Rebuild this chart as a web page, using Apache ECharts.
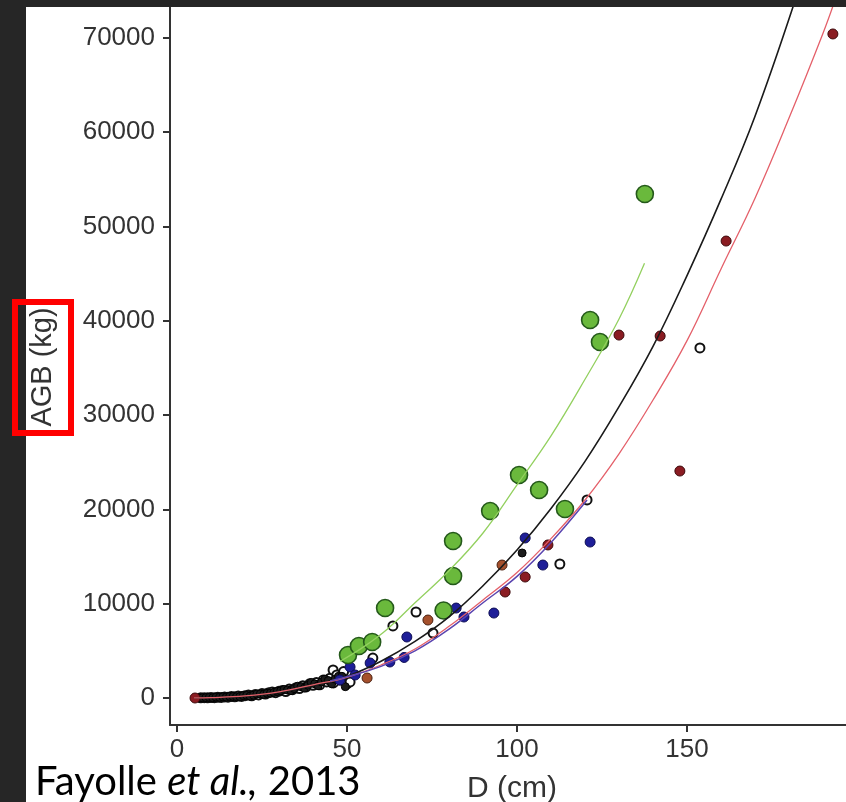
<!DOCTYPE html>
<html>
<head>
<meta charset="utf-8">
<script src="https://cdn.jsdelivr.net/npm/echarts@6/dist/echarts.min.js"></script>
<style>
  html, body { margin: 0; padding: 0; background: #ffffff; }
  #chart { width: 846px; height: 802px; }
</style>
</head>
<body>
<div id="chart"></div>
<script>
// Axis ticks
const xTicks = [0, 50, 100, 150];
const yTicks = [0, 10000, 20000, 30000, 40000, 50000, 60000, 70000];

// Green group (large symbols)
const greenD   = [50.3, 53.5, 57.4, 61.2, 78.4, 81.2, 81.2, 92.1, 100.6, 106.5, 114.1, 121.5, 124.4, 137.6];
const greenAGB = [4560, 5515, 5940, 9545, 9280, 12940, 16650, 19830, 23650, 22060, 20040, 40090, 37750, 53450];

// Dark red group
const redD   = [5.3, 96.5, 102.4, 109.1, 130.0, 142.1, 147.9, 161.5, 192.9];
const redAGB = [0, 11240, 12830, 16230, 38490, 38390, 24070, 48460, 70420];

// Brown points
const brownD   = [55.9, 73.8, 95.6];
const brownAGB = [2120, 8270, 14100];

// Blue group
const blueD   = [47.9, 50.9, 52.4, 56.8, 62.6, 66.8, 67.6, 82.1, 84.4, 93.2, 102.4, 107.6, 121.5];
const blueAGB = [1910, 3290, 2440, 3710, 3820, 4300, 6470, 9540, 8590, 9010, 16970, 14100, 16540];

// Open circles
const openD   = [7, 8, 9, 10, 11, 12, 13, 14, 15, 16, 17, 18, 19, 20, 21, 22, 23, 24, 25, 26, 27, 28, 29, 30,
                 31, 32, 33, 34, 35, 36, 37, 38, 39, 40, 41, 42, 43, 44, 45, 45.9, 46, 47, 48, 49, 50, 50.9,
                 57.6, 63.5, 70.3, 75.3, 112.6, 120.6, 153.8];
const openAGB = [20, 30, 20, 50, 40, 80, 60, 110, 90, 150, 120, 200, 170, 250, 310, 240, 380, 330, 470, 420, 560, 640, 560, 720,
                 800, 680, 950, 880, 1100, 1000, 1300, 1180, 1500, 1350, 1650, 1400, 1900, 1700, 2100, 2970, 1600, 2450, 1900, 2800, 1500, 1700,
                 4240, 7640, 9120, 6890, 14210, 21000, 37120];

// Small filled black points
const darkD   = [6.5, 7.5, 8.5, 9.5, 10.5, 11.5, 12.5, 13.5, 14.5, 15.5, 16.5, 17.5, 18.5, 19.5, 20.5, 21.5, 22.5, 23.5,
                 24.5, 25.5, 26.5, 27.5, 28.5, 29.5, 30.5, 31.5, 32.5, 33.5, 34.5, 35.5, 36.5, 37.5, 38.5, 39.5,
                 40.5, 41.5, 42.5, 43.5, 44.5, 45.5, 46.5, 47.5, 48.5, 49.5, 101.5];
const darkAGB = [10, 30, 40, 60, 30, 90, 70, 120, 100, 170, 160, 140, 150, 250, 280, 200, 300, 420, 420, 380, 500, 520, 600, 700,
                 760, 900, 850, 780, 1000, 1250, 1200, 1050, 1350, 1650, 1500, 1300, 1700, 2000, 1850, 1500, 2000, 2300, 2300, 1200, 15380];

// Fitted curves
const greenFitD   = [48, 55, 62, 70, 80, 90, 100, 110, 120, 130, 137.5];
const greenFitAGB = [3900, 5450, 7350, 10100, 13500, 17500, 22600, 27800, 33800, 40200, 46100];

const blackFitD   = [5, 10, 20, 30, 40, 50, 60, 70, 80, 90, 100, 110, 120, 130, 140, 150, 160, 170, 182];
const blackFitAGB = [10, 40, 200, 600, 1300, 2300, 3900, 6000, 8600, 11900, 15700, 20100, 25100, 30900, 37300, 44800, 52900, 61700, 74200];

const redFitD   = [5, 10, 20, 30, 40, 50, 60, 70, 80, 90, 100, 110, 120, 130, 140, 150, 160, 170, 180, 190, 194];
const redFitAGB = [10, 40, 220, 650, 1400, 2200, 3500, 5200, 7600, 10400, 13300, 16900, 21000, 25900, 31600, 37900, 45500, 53000, 61500, 70500, 74500];

const purpleFitD   = [45, 50, 60, 70, 80, 90, 100, 110, 120.6];
const purpleFitAGB = [1800, 2250, 3350, 5000, 7300, 10100, 12900, 16500, 21000];

const pair = (xs, ys) => xs.map((x, i) => [x, ys[i]]);

const chart = echarts.init(document.getElementById('chart'), null, { renderer: 'canvas' });

const font = 'Liberation Sans';

function pointSeries(xs, ys, size, fill, border, bw) {
  return {
    type: 'scatter',
    data: pair(xs, ys),
    symbol: 'circle',
    symbolSize: size,
    itemStyle: { color: fill, borderColor: border, borderWidth: bw, opacity: 1 },
    z: 2,
    silent: true
  };
}

function fitSeries(xs, ys, color, width) {
  return {
    type: 'line',
    data: pair(xs, ys),
    smooth: 0.4,
    showSymbol: false,
    clip: true,
    lineStyle: { color: color, width: width },
    z: 3,
    silent: true
  };
}

const option = {
  animation: false,
  backgroundColor: '#ffffff',
  textStyle: { fontFamily: font },
  grid: { left: 170, right: 0, top: 7, bottom: 77, containLabel: false },
  xAxis: {
    type: 'value',
    min: -2.06,
    max: 196.76,
    axisLine: { show: true, onZero: false, lineStyle: { color: '#333', width: 2 } },
    axisTick: { show: true, length: 7, customValues: xTicks, lineStyle: { color: '#333', width: 2 } },
    axisLabel: { customValues: xTicks, margin: 12, fontSize: 26, color: '#333', fontFamily: font,
                 formatter: v => String(v) },
    splitLine: { show: false }
  },
  yAxis: {
    type: 'value',
    min: -2863,
    max: 73280,
    axisLine: { show: true, onZero: false, lineStyle: { color: '#333', width: 2 } },
    axisTick: { show: true, length: 7, customValues: yTicks, lineStyle: { color: '#333', width: 2 } },
    axisLabel: { customValues: yTicks, margin: 15, fontSize: 26, color: '#333', fontFamily: font,
                 formatter: v => String(v) },
    splitLine: { show: false }
  },
  series: [
    pointSeries(openD, openAGB, 9, '#ffffff', '#111111', 2),
    pointSeries(darkD, darkAGB, 8, '#1c1c1c', '#000000', 1),
    pointSeries(blueD, blueAGB, 10, '#1e1e98', '#0e0e55', 1),
    pointSeries(redD, redAGB, 10, '#8a1c22', '#3d0a0c', 1),
    pointSeries(brownD, brownAGB, 10, '#a5502c', '#4a2010', 1),
    pointSeries(greenD, greenAGB, 17, '#6ab93c', '#24591a', 1.6),
    fitSeries(greenFitD, greenFitAGB, '#93d05f', 1.3),
    fitSeries(blackFitD, blackFitAGB, '#1a1a1a', 1.6),
    fitSeries(redFitD, redFitAGB, '#e4606a', 1.3),
    fitSeries(purpleFitD, purpleFitAGB, '#5b45b0', 1.5)
  ],
  graphic: [
    // axis titles
    {
      type: 'text', x: 512, y: 789, z: 10,
      style: { text: 'D (cm)', fontFamily: font, fontSize: 30, fill: '#333', align: 'center', verticalAlign: 'middle' }
    },
    {
      type: 'text', x: 43, y: 367, rotation: Math.PI / 2, z: 10,
      style: { text: 'AGB (kg)', fontFamily: font, fontSize: 29, fill: '#333', align: 'center', verticalAlign: 'middle' }
    },
    // dark frame strips
    { type: 'rect', shape: { x: 0, y: 0, width: 26, height: 802 }, style: { fill: '#262626' }, z: 20 },
    { type: 'rect', shape: { x: 0, y: 0, width: 846, height: 7 }, style: { fill: '#262626' }, z: 20 },
    // highlight box around the y title
    {
      type: 'rect', z: 30,
      shape: { x: 15, y: 302, width: 56, height: 131 },
      style: { fill: 'none', stroke: '#ff0000', lineWidth: 6 }
    },
    // source note
    {
      type: 'text', x: 35, y: 782, z: 30,
      style: {
        text: '{a|Fayolle }{i|et al.,}{a| 2013}',
        verticalAlign: 'middle',
        rich: {
          a: { fontFamily: 'Lato', fontSize: 40, fill: '#000' },
          i: { fontFamily: 'Lato', fontSize: 40, fontStyle: 'italic', fill: '#000' }
        }
      }
    }
  ]
};

chart.setOption(option);
</script>
</body>
</html>
